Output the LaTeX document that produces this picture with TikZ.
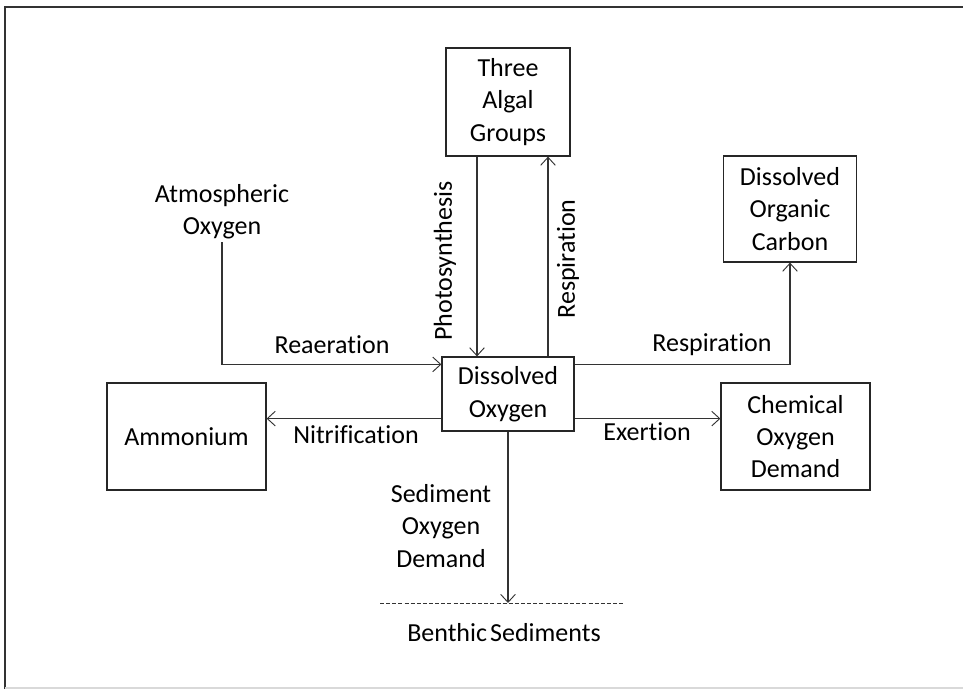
\documentclass[tikz,border=0pt]{standalone}
\usepackage{fontspec}
\setmainfont[Ligatures=NoCommon]{Carlito}
\usetikzlibrary{arrows.meta,calc}
\begin{document}
\begin{tikzpicture}[x=0.75pt,y=-0.75pt,
  font=\fontsize{19.5}{24.3}\selectfont,
  box/.style={draw=black!85,line width=0.9pt,align=center,inner sep=0pt},
  lbl/.style={align=center,inner sep=0pt},
  arr/.style={draw=black!80,line width=0.8pt,-{Straight Barb[length=6pt,width=11pt,line width=0.7pt]}},
  ln/.style={draw=black!80,line width=0.8pt}]
\useasboundingbox (0,0) rectangle (963,690);
% frame
\draw[black!80,line width=2pt] (5,689) -- (5,7) -- (963,7);
\draw[black!15,line width=1pt] (5,688) -- (963,688);
% boxes
\node[box,minimum width=124*0.75pt,minimum height=108*0.75pt] (alg) at (508,102) {Three\\Algal\\Groups};
\node[box,minimum width=132*0.75pt,minimum height=74*0.75pt] (do) at (508,394) {Dissolved\\Oxygen};
\node[box,minimum width=133*0.75pt,minimum height=106*0.75pt] (doc) at (790,209) {Dissolved\\Organic\\Carbon};
\node[box,minimum width=149*0.75pt,minimum height=107*0.75pt] (cod) at (795.5,436.5) {Chemical\\Oxygen\\Demand};
\node[box,minimum width=159*0.75pt,minimum height=107*0.75pt] (amm) at (186.5,436.5) {Ammonium};
\node[lbl,inner ysep=2pt] (atm) at (222,212) {Atmospheric\\Oxygen};
% sediment line
\coordinate (sedL) at (380,603);
\coordinate (sedR) at (623,603);
\draw[black!80,line width=0.7pt,dash pattern=on 3pt off 1.6pt] (sedL) -- (sedR);
\node[lbl] (ben) at (504,633) {Benthic\hspace{0.12em}Sediments};
% connectors
\draw[arr] (atm.south) |- ($(do.north west)+(0,8)$);
\draw[arr] ($(alg.south)+(-31,0)$) -- ($(do.north)+(-31,0)$);
\draw[arr] ($(do.north)+(40,0)$) -- ($(alg.south)+(40,0)$);
\draw[arr] ($(do.north east)+(0,8)$) -| (doc.south);
\coordinate (nitA) at ($(do.south west)+(0,-13)$);
\draw[arr] (nitA) -- (nitA -| amm.east);
\coordinate (exA) at ($(do.south east)+(0,-13)$);
\draw[arr] (exA) -- (exA -| cod.west);
\draw[arr] (do.south) -- (do.south |- sedL);
% labels
\node[lbl] (lrea) at (332,345) {Reaeration};
\node[lbl,rotate=90] (lpho) at (445,261) {Photosynthesis};
\node[lbl,rotate=90] (lres1) at (568,259) {Respiration};
\node[lbl] (lres2) at (712,345) {Respiration};
\node[lbl] (lnit) at (356,435) {Nitrification};
\node[lbl] (lexe) at (647,432) {Exertion};
\node[lbl] (lsod) at (441,526) {Sediment\\Oxygen\\Demand};
\end{tikzpicture}
\end{document}
